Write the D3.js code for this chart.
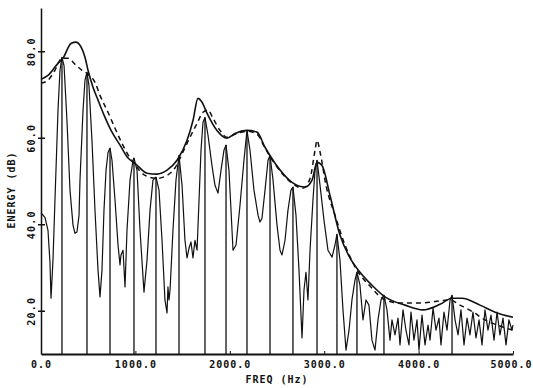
<!DOCTYPE html>
<html>
<head>
<meta charset="utf-8">
<script src="https://cdn.jsdelivr.net/npm/d3@7"></script>
<style>
    body { margin: 0; background: white; }
    text { font-family: "DejaVu Sans Mono", monospace; font-weight: bold; fill: #111; }
</style>
</head>
<body>
<script>
// [freq Hz, energy dB]
const solidEnvelope = [
    [0, 73.5], [74, 74.4], [180, 77.2], [233, 78.4], [318, 81.8], [371, 82.1], [413, 81.4],
    [466, 78.6], [498, 75.6], [551, 71.7], [604, 68.7], [678, 64.7], [742, 61.7], [837, 58.3],
    [922, 55.3], [996, 54.1], [1123, 51.8], [1229, 51.6], [1335, 52.5], [1441, 54.8], [1547, 59.4],
    [1610, 64.0], [1663, 69.1], [1706, 68.2], [1758, 65.7], [1864, 61.7], [1970, 59.9], [2055, 61.0],
    [2182, 61.7], [2288, 61.3], [2373, 57.8], [2479, 54.1], [2659, 49.7], [2797, 48.6], [2871, 50.2],
    [2924, 54.3], [2977, 53.6], [3061, 46.7], [3167, 37.5], [3273, 32.2], [3379, 28.9], [3506, 25.9],
    [3644, 23.2], [3856, 21.3], [4047, 20.2], [4227, 21.5], [4354, 22.9], [4460, 22.9], [4650, 21.3],
    [4831, 19.5], [5000, 18.5]
];

const dashedEnvelope = [
    [0, 72.6], [74, 73.3], [148, 75.6], [222, 78.4], [286, 78.4], [360, 77.0], [434, 75.6],
    [498, 74.7], [572, 72.8], [625, 69.8], [710, 65.9], [784, 62.2], [858, 58.7], [943, 55.3],
    [1006, 53.4], [1102, 51.3], [1229, 50.6], [1335, 51.3], [1419, 53.0], [1504, 56.7], [1578, 60.1],
    [1653, 63.3], [1716, 65.9], [1769, 66.4], [1822, 64.5], [1896, 61.7], [1970, 60.1], [2076, 61.0],
    [2182, 61.5], [2288, 60.8], [2373, 57.6], [2479, 53.9], [2659, 49.5], [2775, 48.3], [2850, 50.6],
    [2903, 57.1], [2924, 59.4], [2956, 56.7], [3019, 49.0], [3114, 42.1], [3220, 35.2], [3347, 29.4],
    [3485, 25.7], [3644, 22.5], [3803, 21.8], [4015, 21.8], [4333, 22.5], [4439, 21.3], [4576, 19.7],
    [4703, 17.9], [4831, 16.7], [5000, 15.5]
];

const spectrum = [
    [0, 42.6], [42, 41.6], [74, 38.6], [95, 31.2], [106, 22.9], [127, 31.7], [148, 45.6], [180, 66.3],
    [201, 75.6], [222, 78.6], [244, 76.7], [275, 64.0], [307, 47.9], [339, 39.8], [360, 37.9], [381, 38.2],
    [403, 42.1], [413, 50.2], [445, 66.3], [466, 73.3], [487, 75.1], [508, 72.1], [540, 59.4], [572, 43.2],
    [604, 29.4], [625, 23.2], [646, 29.4], [667, 43.2], [689, 52.5], [710, 56.6], [731, 57.6], [752, 54.8],
    [784, 45.6], [816, 35.2], [837, 30.6], [847, 32.9], [869, 34.0], [890, 25.5], [911, 38.6], [943, 50.2],
    [975, 54.8], [985, 55.3], [1017, 52.5], [1049, 38.6], [1091, 24.3], [1123, 31.7], [1155, 43.2],
    [1186, 50.2], [1218, 50.9], [1250, 47.9], [1282, 36.3], [1313, 22.5], [1335, 19.5], [1345, 25.5],
    [1356, 22.5], [1367, 24.8], [1398, 38.6], [1430, 50.2], [1462, 55.9], [1494, 49.0], [1525, 36.3],
    [1547, 32.2], [1568, 34.5], [1589, 35.9], [1610, 32.2], [1631, 36.3], [1653, 34.0], [1674, 45.6],
    [1695, 57.1], [1716, 63.6], [1737, 64.7], [1769, 60.6], [1811, 53.6], [1843, 49.0], [1875, 47.2],
    [1907, 52.5], [1938, 57.1], [1960, 58.3], [1991, 52.5], [2013, 43.2], [2034, 34.0], [2066, 35.2],
    [2108, 44.4], [2150, 54.8], [2182, 61.7], [2214, 57.1], [2256, 47.9], [2299, 42.1], [2320, 40.5],
    [2341, 41.4], [2373, 47.9], [2405, 54.8], [2426, 55.9], [2458, 50.2], [2500, 39.8], [2532, 34.0],
    [2553, 32.9], [2585, 36.3], [2616, 43.2], [2648, 47.9], [2669, 48.6], [2701, 42.1], [2733, 29.4],
    [2765, 13.7], [2786, 24.8], [2807, 28.9], [2828, 22.5], [2850, 34.0], [2881, 45.6], [2903, 52.5],
    [2924, 54.8], [2956, 49.0], [2998, 40.9], [3040, 34.0], [3083, 32.4], [3114, 35.2], [3135, 37.7],
    [3167, 31.7], [3199, 20.2], [3231, 10.9], [3263, 15.5], [3294, 22.5], [3326, 27.1], [3347, 28.9],
    [3379, 25.9], [3411, 17.9], [3443, 22.5], [3474, 21.3], [3506, 13.2], [3538, 10.9], [3570, 17.9],
    [3602, 22.5], [3633, 23.6], [3665, 20.2], [3697, 13.2], [3718, 17.9], [3750, 14.4], [3782, 18.3],
    [3803, 12.1], [3835, 20.2], [3866, 15.5], [3898, 12.1], [3919, 19.7], [3951, 13.2], [3983, 17.9],
    [4004, 10.9], [4036, 19.0], [4068, 12.1], [4100, 16.7], [4121, 13.2], [4153, 20.6], [4184, 15.5],
    [4216, 18.3], [4237, 12.1], [4269, 19.7], [4301, 15.5], [4333, 22.5], [4354, 23.6], [4386, 17.9],
    [4418, 14.4], [4449, 20.2], [4481, 12.1], [4513, 18.3], [4544, 14.4], [4576, 19.7], [4608, 13.7],
    [4640, 17.9], [4672, 12.1], [4703, 20.2], [4735, 15.5], [4767, 19.0], [4799, 13.2], [4831, 19.7],
    [4862, 14.4], [4894, 18.3], [4926, 12.1], [4957, 17.9], [4989, 15.5], [5000, 16.7]
];

// harmonic peaks, drawn as lines up from the baseline
const harmonics = [
    [222, 78.6], [487, 75.1], [731, 57.6], [985, 55.3], [1218, 50.9], [1462, 55.9], [1737, 64.7],
    [1960, 58.3], [2182, 61.7], [2426, 55.9], [2669, 48.6], [2924, 54.8], [3135, 37.7], [3347, 28.9],
    [3633, 23.6], [4354, 23.6]
];

const xTicks = [0, 1000, 2000, 3000, 4000, 5000];
const yTicks = [20, 40, 60, 80];

class SpectrumPlot {
    constructor() {
        this.width = 533;
        this.height = 388;
        this.x = d3.scaleLinear().domain([0, 5000]).range([41, 513]);
        this.y = d3.scaleLinear().domain([10, 90]).range([354, 8]);
        this.svg = null;
    }

    init() {
        this.svg = d3.select("body").append("svg")
            .attr("width", this.width)
            .attr("height", this.height);
        this.drawStems();
        this.drawCurves();
        this.drawAxes();
    }

    drawStems() {
        this.svg.selectAll(".stem")
            .data(harmonics)
            .enter().append("line")
            .attr("class", "stem")
            .attr("x1", d => this.x(d[0]))
            .attr("x2", d => this.x(d[0]))
            .attr("y1", this.y(10))
            .attr("y2", d => this.y(d[1]))
            .style("stroke", "#111")
            .style("stroke-width", 1.3);
    }

    drawCurves() {
        const line = d3.line()
            .x(d => this.x(d[0]))
            .y(d => this.y(d[1]));
        const smooth = d3.line()
            .x(d => this.x(d[0]))
            .y(d => this.y(d[1]))
            .curve(d3.curveMonotoneX);

        this.svg.append("path")
            .datum(spectrum)
            .attr("d", line)
            .style("fill", "none")
            .style("stroke", "#111")
            .style("stroke-width", 1.2)
            .style("stroke-linejoin", "round");

        this.svg.append("path")
            .datum(dashedEnvelope)
            .attr("d", smooth)
            .style("fill", "none")
            .style("stroke", "#111")
            .style("stroke-width", 1.5)
            .style("stroke-dasharray", "5,4");

        this.svg.append("path")
            .datum(solidEnvelope)
            .attr("d", smooth)
            .style("fill", "none")
            .style("stroke", "#111")
            .style("stroke-width", 1.6);
    }

    drawAxes() {
        const xAxis = this.svg.append("g")
            .attr("transform", `translate(0,${this.y(10)})`)
            .call(d3.axisBottom(this.x)
                .tickValues(xTicks)
                .tickFormat(d3.format(".1f"))
                .tickSizeInner(-3)
                .tickSizeOuter(0)
                .tickPadding(7));
        xAxis.select(".domain").style("stroke", "#111").style("stroke-width", 2);
        xAxis.selectAll(".tick line").style("stroke", "#111");
        xAxis.selectAll("text")
            .style("font-size", "10px")
            .style("letter-spacing", "1px")
            .attr("fill", "#111");
        // last label sits against the right edge, keep it inside
        xAxis.selectAll("text").filter(d => d === 5000).attr("x", -2);

        const yAxis = this.svg.append("g")
            .attr("transform", `translate(${this.x(0)},0)`)
            .call(d3.axisLeft(this.y)
                .tickValues(yTicks)
                .tickFormat(d3.format(".1f"))
                .tickSize(3)
                .tickSizeOuter(0));
        yAxis.select(".domain").style("stroke", "#111").style("stroke-width", 1.5);
        yAxis.selectAll(".tick line")
            .attr("x1", -3)
            .attr("x2", 4)
            .style("stroke", "#111")
            .style("stroke-width", 1.5);
        yAxis.selectAll("text")
            .attr("transform", "rotate(-90)")
            .attr("x", 0)
            .attr("y", -6)
            .attr("dy", 0)
            .attr("text-anchor", "middle")
            .attr("fill", "#111")
            .style("font-size", "10px")
            .style("letter-spacing", "1.2px");

        this.svg.append("text")
            .attr("x", 277)
            .attr("y", 383)
            .attr("text-anchor", "middle")
            .style("font-size", "10px")
            .style("letter-spacing", "1px")
            .text("FREQ (Hz)");

        this.svg.append("text")
            .attr("transform", "translate(15,190) rotate(-90)")
            .attr("text-anchor", "middle")
            .style("font-size", "10px")
            .style("letter-spacing", "1px")
            .text("ENERGY (dB)");
    }
}

const plot = new SpectrumPlot();
plot.init();
</script>
</body>
</html>
